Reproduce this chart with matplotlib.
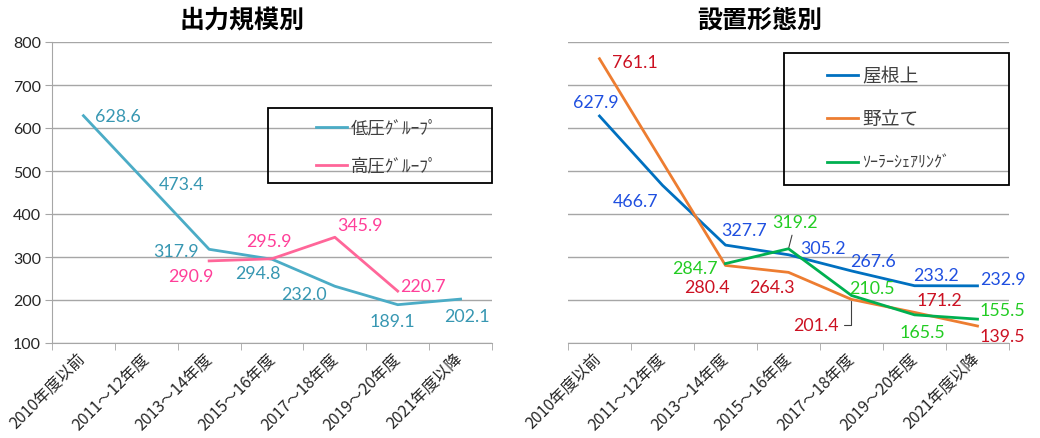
import numpy as np
import matplotlib
matplotlib.use("Agg")
import matplotlib.pyplot as plt
from matplotlib.patches import Rectangle
from matplotlib.lines import Line2D

# Data
categories = ['2010年度以前', '2011～12年度', '2013～14年度', '2015～16年度',
              '2017～18年度', '2019～20年度', '2021年度以降']
nan = np.nan
low_voltage = [628.6, 473.4, 317.9, 294.8, 232.0, 189.1, 202.1]
high_voltage = [nan, nan, 290.9, 295.9, 345.9, 220.7, nan]
rooftop = [627.9, 466.7, 327.7, 305.2, 267.6, 233.2, 232.9]
ground = [761.1, nan, 280.4, 264.3, 201.4, 171.2, 139.5]
solar_sharing = [nan, nan, 284.7, 319.2, 210.5, 165.5, 155.5]

low_name, high_name = '低圧ｸﾞﾙｰﾌﾟ', '高圧ｸﾞﾙｰﾌﾟ'
roof_name, ground_name, share_name = '屋根上', '野立て', 'ｿｰﾗｰｼｪｱﾘﾝｸﾞ'
yticks = [100, 200, 300, 400, 500, 600, 700, 800]

# label offsets in pixels (right, up) from each point
low_off = [(34, 0), (35, -2), (-33, -2), (-14, -14), (-31, -8), (-5, -16), (6, -17)]
high_off = [None, None, (-18, -15), (-3, 18), (25, 12), (25, 5), None]
roof_off = [(-4, 14), (-27, -16), (19, 15), (35, 7), (21, 10), (21, 11), (25, 7)]
ground_off = [(35, -3), None, (-19, -22), (-17, -15), (-36, -26), (25, 12), (25, -10)]
share_off = [None, None, (-31, -4), (7, 27), (20, 7), (8, -17), (25, 9)]

W, H = 1040, 439
num_font = 'Lato'
jp_font = ['Noto Sans CJK JP', 'DejaVu Sans']
grid_c = '#A6A6A6'

fig = plt.figure(figsize=(W / 100, H / 100), dpi=100)
axL = fig.add_axes([52 / W, 95 / H, 440 / W, 301 / H])
axR = fig.add_axes([568 / W, 95 / H, 441 / W, 301 / H])

x = np.arange(len(categories))


def style_axis(ax, show_y):
    ax.set_xlim(-0.5, len(categories) - 0.5)
    ax.set_ylim(100, 800)
    ax.set_yticks(yticks)
    ax.yaxis.grid(True, color=grid_c, lw=1)
    ax.set_axisbelow(True)
    for s in ['top', 'right']:
        ax.spines[s].set_visible(False)
    ax.spines['bottom'].set_color(grid_c)
    ax.spines['left'].set_color(grid_c)
    ax.spines['left'].set_visible(show_y)
    ax.set_xticks(x)
    ax.set_xticklabels(categories, rotation=45, ha='right', va='center',
                       rotation_mode='anchor', family=jp_font, fontsize=11.5, color='#262626')
    ax.tick_params(axis='x', length=0, pad=9)
    ax.set_xticks(np.arange(-0.5, len(categories)), minor=True)
    ax.tick_params(axis='x', which='minor', length=5, color=grid_c)
    if show_y:
        ax.tick_params(axis='y', length=5, color=grid_c, labelsize=11.5, labelcolor='#262626', pad=3)
        for t in ax.get_yticklabels():
            t.set_family(num_font)
    else:
        ax.tick_params(axis='y', length=0, labelleft=False)


def draw_series(ax, vals, color, lab_color, offs, leaders=()):
    v = np.array(vals, dtype=float)
    m = ~np.isnan(v)
    ax.plot(x[m], v[m], color=color, lw=2, solid_joinstyle='round')
    for i in range(len(v)):
        if not m[i] or offs[i] is None:
            continue
        kw = {}
        if i in leaders:
            kw['arrowprops'] = dict(arrowstyle='-', color='#404040', lw=0.8,
                                    connectionstyle=leaders[i], shrinkA=2, shrinkB=1)
        ax.annotate(f'{v[i]:.1f}', (x[i], v[i]), xytext=offs[i], textcoords='offset pixels',
                    ha='center', va='center', color=lab_color, fontsize=12.8,
                    family=num_font, **kw)


style_axis(axL, True)
style_axis(axR, False)

low_c, high_c = '#4BACC6', '#FF6699'
roof_c, ground_c, share_c = '#0070C0', '#ED7D31', '#00B050'

draw_series(axL, low_voltage, low_c, '#3797B2', low_off)
draw_series(axL, high_voltage, high_c, '#FF3F99', high_off)
draw_series(axR, rooftop, roof_c, '#1F4FE0', roof_off)
draw_series(axR, ground, ground_c, '#CC1122', ground_off,
            leaders={4: 'angle,angleA=0,angleB=90,rad=0'})
draw_series(axR, solar_sharing, share_c, '#22CC22', share_off,
            leaders={3: 'arc3'})

# titles
fig.text(242 / W, 1 - 21 / H, '出力規模別', ha='center', va='center',
         family=jp_font, fontsize=18, fontweight='bold')
fig.text(760 / W, 1 - 21 / H, '設置形態別', ha='center', va='center',
         family=jp_font, fontsize=18, fontweight='bold')


def px(xp, yp):
    return xp / W, 1 - yp / H


def legend_box(x0, y0, x1, y1, entries, lx0, lx1):
    fig.add_artist(Rectangle(px(x0, y1), (x1 - x0) / W, (y1 - y0) / H,
                             transform=fig.transFigure, fill=False, ec='black', lw=1.3))
    for name, color, yy, fs in entries:
        fig.add_artist(Line2D([lx0 / W, lx1 / W], [1 - yy / H] * 2, color=color, lw=2,
                              transform=fig.transFigure))
        fig.text((lx1 + 4) / W, 1 - yy / H, name, ha='left', va='center',
                 family=jp_font, fontsize=fs, color='#404040')


legend_box(268, 109, 492, 184,
           [(low_name, low_c, 128, 12.5), (high_name, high_c, 166, 12.5)], 316, 347)
legend_box(784, 54, 1009, 186,
           [(roof_name, roof_c, 76, 13.5), (ground_name, ground_c, 119, 13.5),
            (share_name, share_c, 163, 11.5)], 827, 858)

fig.savefig('out.png', dpi=100)
